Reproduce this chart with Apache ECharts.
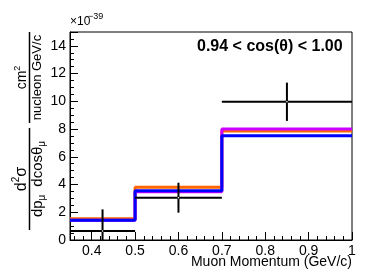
<!DOCTYPE html>
<html><head><meta charset="utf-8">
<script src="https://cdn.jsdelivr.net/npm/echarts@6/dist/echarts.min.js"></script>
<style>html,body{margin:0;padding:0;background:#fff}#c{width:387px;height:273px}</style>
</head><body><div id="c"></div>
<script>
// ---- data ----
const binEdges = [0.35, 0.5, 0.7, 1.0];
const orangeValues = [1.54, 3.80, 7.86];
const magentaValues = [1.42, 3.48, 8.00];
const blueValues = [1.42, 3.56, 7.52];
const dataX = [0.425, 0.6, 0.85];
const dataY = [0.65, 3.05, 9.97];
const dataYErr = [1.56, 1.08, 1.38];
const xTickLabels = ["0.4", "0.5", "0.6", "0.7", "0.8", "0.9", "1"];
const yTickLabels = ["0", "2", "4", "6", "8", "10", "12", "14"];
const xMin = 0.35, xMax = 1.0, yMin = 0, yMax = 15;
const panelLabel = "0.94 < cos(θ) < 1.00";
const xTitle = "Muon Momentum (GeV/c)";

function steps(vals) {
  const pts = [];
  for (let i = 0; i < vals.length; i++) {
    pts.push([binEdges[i], vals[i]]);
    pts.push([binEdges[i + 1], vals[i]]);
  }
  return pts;
}
const pointData = dataX.map((x, i) => [x, dataY[i], binEdges[i], binEdges[i + 1], dataYErr[i]]);

function fmtX(v) {
  const s = (Math.round(v * 100) / 100).toString();
  return xTickLabels.indexOf(s) >= 0 ? s : '';
}
function fmtY(v) {
  const s = String(Math.round(v));
  return yTickLabels.indexOf(s) >= 0 && Math.abs(v - Math.round(v)) < 1e-6 ? s : '';
}

const chart = echarts.init(document.getElementById('c'), null, {renderer: 'canvas'});
const font = 'Liberation Sans, Arial, Helvetica, sans-serif';

function lineSeries(vals, color, z) {
  return {
    type: 'line', data: steps(vals), showSymbol: false, symbol: 'none',
    lineStyle: {color: color, width: 3}, itemStyle: {color: color},
    z: z, animation: false, silent: true
  };
}

function fracGroup(cx, cy, len, numRich, denRich, numOff, denOff) {
  return {
    type: 'group', x: cx, y: cy, rotation: Math.PI / 2,
    children: [
      {type: 'line', shape: {x1: -len / 2, y1: 0, x2: len / 2, y2: 0}, style: {stroke: '#000', lineWidth: 1.5}},
      {type: 'text', x: 0, y: numOff, style: Object.assign({align: 'center', verticalAlign: 'middle', fill: '#000'}, numRich)},
      {type: 'text', x: 0, y: denOff, style: Object.assign({align: 'center', verticalAlign: 'middle', fill: '#000'}, denRich)}
    ]
  };
}

function richSet(size) {
  return {
    n: {fontSize: size, fontFamily: font, color: '#000', lineHeight: size + 4},
    sp: {fontSize: size, fontFamily: font, color: '#000', lineHeight: size + 4, width: 8},
    sup: {fontSize: Math.round(size * 0.65), fontFamily: font, color: '#000', lineHeight: 8, verticalAlign: 'top'},
    sub: {fontSize: Math.round(size * 0.65), fontFamily: font, color: '#000', lineHeight: 8, verticalAlign: 'bottom'}
  };
}

const option = {
  animation: false,
  backgroundColor: '#fff',
  grid: {left: 70, right: 35, top: 32, bottom: 33, show: true, borderColor: '#000', borderWidth: 1, backgroundColor: 'transparent'},
  xAxis: {
    type: 'value', min: xMin, max: xMax, minInterval: 0.1, maxInterval: 0.1,
    splitLine: {show: false},
    axisLine: {lineStyle: {color: '#000', width: 1}},
    axisTick: {inside: true, length: 8, lineStyle: {color: '#000'}},
    minorTick: {show: true, splitNumber: 5, length: 4, lineStyle: {color: '#000'}},
    axisLabel: {formatter: fmtX, fontSize: 14, fontFamily: font, color: '#000', margin: 4, showMinLabel: false}
  },
  yAxis: {
    type: 'value', min: yMin, max: yMax, minInterval: 2, maxInterval: 2,
    splitLine: {show: false},
    axisLine: {show: true, lineStyle: {color: '#000', width: 1}},
    axisTick: {show: true, inside: true, length: 8, lineStyle: {color: '#000'}},
    minorTick: {show: true, splitNumber: 4, length: 4, lineStyle: {color: '#000'}},
    axisLabel: {formatter: fmtY, fontSize: 14, fontFamily: font, color: '#000', margin: 4, showMaxLabel: false}
  },
  series: [
    lineSeries(orangeValues, '#ff6600', 2),
    lineSeries(magentaValues, '#cc00ff', 3),
    lineSeries(blueValues, '#0000ff', 4),
    {
      type: 'custom', data: pointData, z: 10, animation: false, silent: true,
      renderItem: function (params, api) {
        const x = api.value(0), y = api.value(1), lo = api.value(2), hi = api.value(3), e = api.value(4);
        const pL = api.coord([lo, y]);
        const pR = api.coord([hi, y]);
        const pT = api.coord([x, Math.min(y + e, yMax)]);
        const pB = api.coord([x, Math.max(y - e, yMin)]);
        const pC = api.coord([x, y]);
        const st = {stroke: '#000', lineWidth: 2};
        return {
          type: 'group', children: [
            {type: 'line', shape: {x1: pL[0], y1: pL[1], x2: pR[0], y2: pR[1]}, style: st},
            {type: 'line', shape: {x1: pT[0], y1: pT[1], x2: pB[0], y2: pB[1]}, style: st},
            {type: 'circle', shape: {cx: pC[0], cy: pC[1], r: 0.8}, style: {fill: '#fff'}}
          ]
        };
      }
    }
  ],
  graphic: [
    {type: 'text', x: 70, y: 22, style: {text: '×10', font: '12px ' + font, fill: '#000', verticalAlign: 'middle', align: 'left'}},
    {type: 'text', x: 88, y: 17, style: {text: '−39', font: '9px ' + font, fill: '#000', verticalAlign: 'middle', align: 'left'}},
    {type: 'text', x: 197, y: 47, style: {text: panelLabel, font: 'bold 16px ' + font, fill: '#000', verticalAlign: 'middle', align: 'left'}},
    {type: 'text', x: 352, y: 262, style: {text: xTitle, font: '14px ' + font, fill: '#000', verticalAlign: 'middle', align: 'right'}},
    fracGroup(29.5, 179, 102,
      {text: '{n|d}{sup|2}{n|σ}', rich: richSet(16)},
      {text: '{n|dp}{sub|μ}{sp| }{n|dcosθ}{sub|μ}', rich: richSet(15)}, -8, 8.5),
    fracGroup(29.5, 77.5, 91,
      {text: '{n|cm}{sup|2}', rich: richSet(14)},
      {text: '{n|nucleon GeV/c}', rich: richSet(13)}, -7.5, 8)
  ]
};
chart.setOption(option);
</script>
</body></html>
